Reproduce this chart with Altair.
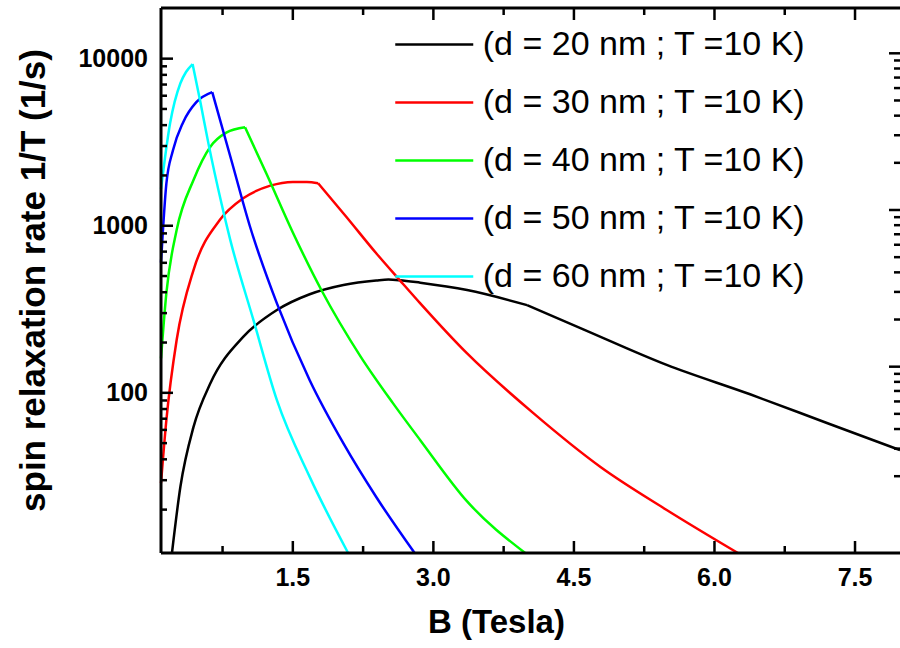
import math
import altair as alt
import pandas as pd

# ---------------- data ----------------
series_labels = [
    "(d = 20 nm ; T =10 K)",
    "(d = 30 nm ; T =10 K)",
    "(d = 40 nm ; T =10 K)",
    "(d = 50 nm ; T =10 K)",
    "(d = 60 nm ; T =10 K)",
]
series_colors = ["#000000", "#ff0000", "#00ff00", "#0000ff", "#00ffff"]

b_d20 = [0.21, 0.30, 0.44, 0.62, 0.97, 1.33, 1.68, 2.04, 2.39, 2.52, 2.64, 2.86, 3.36, 4.00, 4.60, 5.49, 6.38, 7.20, 7.98]
r_d20 = [11.0, 27.4, 62.5, 114, 216, 313, 389, 442, 470, 476, 472, 456, 412, 335, 240, 147, 98, 66, 45.4]

b_d30 = [0.093, 0.15, 0.26, 0.44, 0.72, 0.97, 1.26, 1.50, 1.65, 1.77, 2.07, 2.39, 2.64, 2.86, 3.36, 4.07, 4.78, 5.49, 6.25]
r_d30 = [28.8, 68.5, 207, 543, 1081, 1459, 1738, 1830, 1825, 1795, 1132, 684, 473, 343, 172, 75.3, 36.1, 19.9, 11.0]

b_d40 = [0.093, 0.15, 0.26, 0.44, 0.62, 0.79, 0.99, 1.22, 1.50, 1.81, 2.22, 2.57, 2.86, 3.36, 3.98]
r_d40 = [160.7, 393.6, 942, 1879, 2972, 3606, 3882, 2042, 912, 407, 166, 86.5, 52.1, 22.4, 11.0]

b_d50 = [0.093, 0.15, 0.22, 0.33, 0.47, 0.64, 0.85, 1.04, 1.33, 1.68, 2.04, 2.39, 2.80]
r_d50 = [602.6, 1778, 2818, 4169, 5495, 6310, 2399, 1000, 343, 119, 49.8, 23.8, 11.0]

b_d60 = [0.093, 0.19, 0.30, 0.36, 0.43, 0.51, 0.60, 0.74, 0.83, 1.08, 1.33, 1.68, 2.09]
r_d60 = [1660, 4102, 7129, 8318, 9290, 5623, 3090, 1349, 832, 272, 90.4, 31.4, 11.0]

# field B where each curve has its sharp corner
b_kink = [4.00, 1.77, 0.99, 0.64, 0.43]

x_domain = [0.093, 7.98]
y_domain = [11.0, 20100.0]
# the right-hand tick ladder of the original follows its own log scale
y_domain_right = [6.47, 19460.0]

x_major = [1.5, 3.0, 4.5, 6.0, 7.5]
x_major_labels = ["1.5", "3.0", "4.5", "6.0", "7.5"]
x_minor = [0.75, 2.25, 3.75, 5.25, 6.75]
y_major = [100, 1000, 10000]
y_major_labels = ["100", "1000", "10000"]
y_minor = [20, 30, 40, 50, 60, 70, 80, 90,
           200, 300, 400, 500, 600, 700, 800, 900,
           2000, 3000, 4000, 5000, 6000, 7000, 8000, 9000]

x_title = "B (Tesla)"
y_title = "spin relaxation rate 1/T (1/s)"

# ---------------- table ----------------
rows = []
for lab, bs, rs, bk in zip(series_labels,
                           [b_d20, b_d30, b_d40, b_d50, b_d60],
                           [r_d20, r_d30, r_d40, r_d50, r_d60],
                           b_kink):
    for b, r in zip(bs, rs):
        if b <= bk:
            rows.append({"B": b, "rate": r, "series": lab, "seg": lab + " rise"})
        if b >= bk:
            rows.append({"B": b, "rate": r, "series": lab, "seg": lab + " fall"})
df = pd.DataFrame(rows)

W, H = 739, 545
FONT = "Liberation Sans"
xscale = alt.Scale(domain=x_domain, nice=False, zero=False)
yscale = alt.Scale(type="log", domain=y_domain, nice=False)

# no clipping anywhere (legend rows packed with a negative row padding instead)
legend = alt.Legend(
    orient="none", legendX=232.75, legendY=-4, title=None, symbolType="stroke",
    symbolSize=6084, symbolStrokeWidth=2.5, labelFont=FONT, labelFontSize=34,
    labelColor="black", labelOffset=8, labelLimit=600, rowPadding=-16, padding=0,
)

lines = alt.Chart(df).mark_line(strokeWidth=2.5, interpolate="monotone").encode(
    x=alt.X("B:Q", scale=xscale, axis=None),
    y=alt.Y("rate:Q", scale=yscale, axis=None),
    color=alt.Color("series:N", sort=series_labels,
                    scale=alt.Scale(domain=series_labels, range=series_colors),
                    legend=legend),
    detail="seg:N",
)


def xrule(values, y1, y2):
    return alt.Chart(pd.DataFrame({"tv": values})).mark_rule(
        color="black", strokeWidth=2.5
    ).encode(x=alt.X("tv:Q", scale=xscale, axis=None), y=alt.value(y1), y2=alt.value(y2))


def yrule(values, x1, x2, right_scale=False):
    ch = alt.Chart(pd.DataFrame({"tv": values}))
    field = "tv"
    if right_scale:
        # place the right-hand ladder value on the main log scale
        a0, a1 = math.log10(y_domain_right[0]), math.log10(y_domain_right[1])
        b0, b1 = math.log10(y_domain[0]), math.log10(y_domain[1])
        ch = ch.transform_calculate(
            tr=f"pow(10, {b0} + (log(datum.tv)/LN10 - {a0}) * {(b1 - b0) / (a1 - a0)})"
        )
        field = "tr"
    return ch.mark_rule(color="black", strokeWidth=2.5).encode(
        y=alt.Y(f"{field}:Q", scale=yscale, axis=None), x=alt.value(x1), x2=alt.value(x2)
    )


def spine(x1, x2, y1, y2, tag):
    return alt.Chart(pd.DataFrame({"k": [tag]})).mark_rule(color="black", strokeWidth=3).encode(
        x=alt.value(x1), x2=alt.value(x2), y=alt.value(y1), y2=alt.value(y2)
    )


spines = [spine(0, W, 0, 0, "top"), spine(0, W, H, H, "bottom"), spine(0, 0, 0, H, "left")]

ticks = [
    xrule(x_major, H, H - 12), xrule(x_minor, H, H - 7),   # bottom, inward
    xrule(x_major, 0, 12), xrule(x_minor, 0, 7),           # top, inward
    yrule(y_major, 0, 12), yrule(y_minor, 0, 6),           # left, inward
    yrule(y_major, W, W - 11, True), yrule(y_minor, W, W - 6, True),  # right, inward
]

x_labels = alt.Chart(pd.DataFrame({"lv": x_major, "lab": x_major_labels})).mark_text(
    font=FONT, fontSize=25, fontWeight="bold", color="black",
    align="center", baseline="alphabetic"
).encode(x=alt.X("lv:Q", scale=xscale, axis=None), y=alt.value(H + 33), text="lab:N")

y_labels = alt.Chart(pd.DataFrame({"lv": y_major, "lab": y_major_labels})).mark_text(
    font=FONT, fontSize=25, fontWeight="bold", color="black",
    align="right", baseline="middle"
).encode(y=alt.Y("lv:Q", scale=yscale, axis=None), x=alt.value(-13), text="lab:N")

x_title_mark = alt.Chart(pd.DataFrame({"k": ["xt"]})).mark_text(
    text=x_title, font=FONT, fontSize=33, fontWeight="bold", color="black",
    align="center", baseline="alphabetic"
).encode(x=alt.value(335.5), y=alt.value(H + 80))

y_title_mark = alt.Chart(pd.DataFrame({"k": ["yt"]})).mark_text(
    text=y_title, font=FONT, fontSize=35, fontWeight="bold", color="black",
    align="center", baseline="alphabetic", angle=270
).encode(x=alt.value(-116), y=alt.value(272.5))

chart = (
    alt.layer(lines, *spines, *ticks, x_labels, y_labels, x_title_mark, y_title_mark)
    .properties(
        width=W, height=H,
        autosize=alt.AutoSizeParams(type="none"),
        padding={"left": 161, "top": 8, "right": 0, "bottom": 90},
        background="white",
    )
    .configure_view(stroke=None)
)

chart.save("out.html", embed_options={"renderer": "svg", "actions": False})
